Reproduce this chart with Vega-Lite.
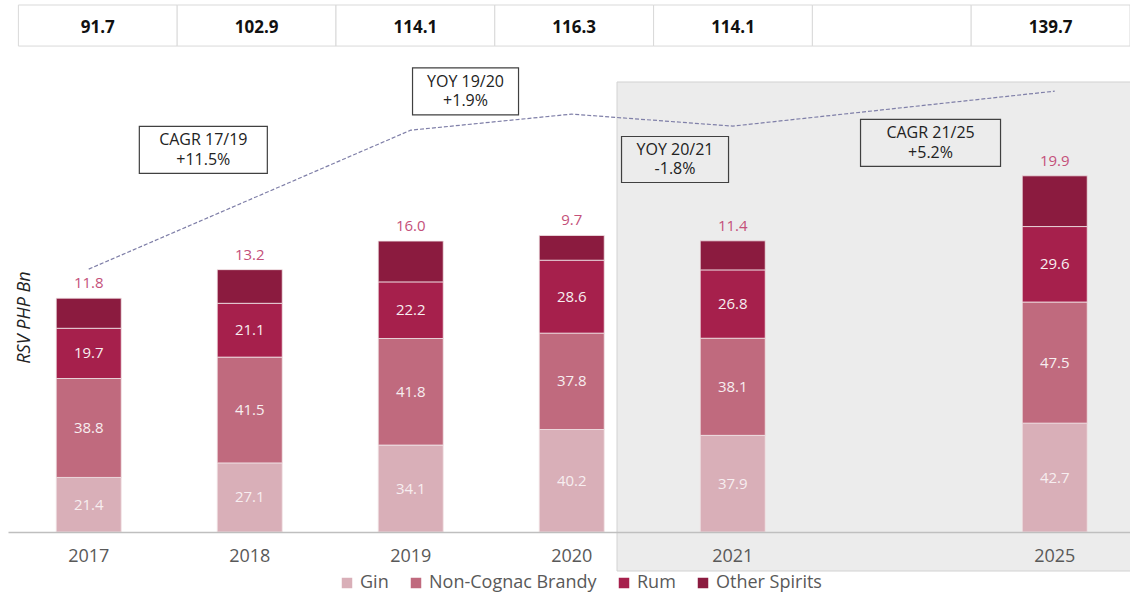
{
  "$schema": "https://vega.github.io/schema/vega-lite/v6.json",
  "width": 1122,
  "height": 527,
  "padding": {"left": 8, "top": 4, "right": 0, "bottom": 0},
  "autosize": {"type": "pad"},
  "background": "white",
  "config": {
    "view": {"stroke": null},
    "font": "Open Sans",
    "axisX": {"ticks": false, "grid": false},
    "axisY": {"labels": false, "ticks": false, "domain": false, "grid": false}
  },
  "datasets": {
    "spirits": [
      {"year": "2017", "type": "Gin", "rank": 1, "value": 21.4},
      {"year": "2017", "type": "Non-Cognac Brandy", "rank": 2, "value": 38.8},
      {"year": "2017", "type": "Rum", "rank": 3, "value": 19.7},
      {"year": "2017", "type": "Other Spirits", "rank": 4, "value": 11.8},
      {"year": "2018", "type": "Gin", "rank": 1, "value": 27.1},
      {"year": "2018", "type": "Non-Cognac Brandy", "rank": 2, "value": 41.5},
      {"year": "2018", "type": "Rum", "rank": 3, "value": 21.1},
      {"year": "2018", "type": "Other Spirits", "rank": 4, "value": 13.2},
      {"year": "2019", "type": "Gin", "rank": 1, "value": 34.1},
      {"year": "2019", "type": "Non-Cognac Brandy", "rank": 2, "value": 41.8},
      {"year": "2019", "type": "Rum", "rank": 3, "value": 22.2},
      {"year": "2019", "type": "Other Spirits", "rank": 4, "value": 16.0},
      {"year": "2020", "type": "Gin", "rank": 1, "value": 40.2},
      {"year": "2020", "type": "Non-Cognac Brandy", "rank": 2, "value": 37.8},
      {"year": "2020", "type": "Rum", "rank": 3, "value": 28.6},
      {"year": "2020", "type": "Other Spirits", "rank": 4, "value": 9.7},
      {"year": "2021", "type": "Gin", "rank": 1, "value": 37.9},
      {"year": "2021", "type": "Non-Cognac Brandy", "rank": 2, "value": 38.1},
      {"year": "2021", "type": "Rum", "rank": 3, "value": 26.8},
      {"year": "2021", "type": "Other Spirits", "rank": 4, "value": 11.4},
      {"year": "2025", "type": "Gin", "rank": 1, "value": 42.7},
      {"year": "2025", "type": "Non-Cognac Brandy", "rank": 2, "value": 47.5},
      {"year": "2025", "type": "Rum", "rank": 3, "value": 29.6},
      {"year": "2025", "type": "Other Spirits", "rank": 4, "value": 19.9}
    ],
    "totals": [
      {"year": "2017", "label": "91.7"},
      {"year": "2018", "label": "102.9"},
      {"year": "2019", "label": "114.1"},
      {"year": "2020", "label": "116.3"},
      {"year": "2021", "label": "114.1"},
      {"year": " ", "label": ""},
      {"year": "2025", "label": "139.7"}
    ],
    "trend": [
      {"year": "2017", "trend": 103.1},
      {"year": "2019", "trend": 157.6},
      {"year": "2020", "trend": 163.9},
      {"year": "2021", "trend": 159.2},
      {"year": "2025", "trend": 172.9}
    ]
  },
  "layer": [
    {
      "data": {"name": "totals"},
      "encoding": {
        "x": {"field": "year", "type": "nominal", "axis": null,
              "scale": {"domain": ["2017", "2018", "2019", "2020", "2021", " ", "2025"], "paddingInner": 0, "paddingOuter": 0.0327, "align": 1}}
      },
      "layer": [
        {
          "mark": {"type": "rect", "fill": "white", "stroke": "#d9d9d9", "strokeWidth": 1},
          "encoding": {
            "y": {"datum": 190.6, "type": "quantitative", "title": "RSV PHP Bn", "scale": {"domain": [0, 206.7], "nice": false, "zero": false}},
            "y2": {"datum": 206.7}
          }
        },
        {
          "mark": {"type": "text", "fontSize": 17, "fontWeight": "bold", "color": "#111111", "baseline": "middle"},
          "encoding": {
            "y": {"datum": 197.8, "type": "quantitative", "title": "RSV PHP Bn", "scale": {"domain": [0, 206.7], "nice": false, "zero": false}},
            "text": {"field": "label", "type": "nominal"}
          }
        }
      ]
    },
    {
      "data": {"name": "spirits"},
      "layer": [
        {
          "data": {"values": [{"region": "forecast"}]},
          "mark": {"type": "rect", "fill": "#ececec", "stroke": "#d2d2d2", "strokeWidth": 1, "xOffset": -115.7, "x2Offset": 76},
          "encoding": {
            "x": {"datum": "2021", "type": "nominal", "bandPosition": 0.5, "title": null,
                  "scale": {"domain": ["2017", "2018", "2019", "2020", "2021", " ", "2025"], "paddingInner": 0.5963, "paddingOuter": 0.2826, "align": 0.53}},
            "x2": {"datum": "2025", "bandPosition": 0.5},
            "y": {"datum": -15.3, "type": "quantitative", "title": "RSV PHP Bn", "scale": {"domain": [0, 206.7], "nice": false, "zero": false}},
            "y2": {"datum": 176.5}
          }
        },
        {
          "mark": {"type": "bar", "stroke": "#f1e4e7", "strokeWidth": 0.8},
          "encoding": {
            "x": {"field": "year", "type": "nominal", "title": null,
                  "scale": {"domain": ["2017", "2018", "2019", "2020", "2021", " ", "2025"], "paddingInner": 0.5963, "paddingOuter": 0.2826, "align": 0.53},
                  "axis": {"zindex": 2, "labelFontSize": 18, "labelColor": "#595959", "labelFont": "Open Sans", "labelPadding": 15, "labelAlign": "center", "labelBaseline": "top", "ticks": false, "labelAngle": 0, "domainColor": "#bfbfbf", "domainWidth": 1.5, "grid": false}},
            "y": {"field": "value", "type": "quantitative", "stack": "zero", "title": "RSV PHP Bn",
                  "scale": {"domain": [0, 206.7], "nice": false, "zero": false},
                  "axis": {"labels": false, "ticks": false, "domain": false, "grid": false, "titleFontStyle": "italic", "titleFontWeight": "normal", "titleFontSize": 18, "titleColor": "#222222", "titleFont": "Open Sans", "titleX": 25, "titleY": 312, "titleAngle": -90, "titleAlign": "center", "titleBaseline": "bottom"}},
            "order": {"field": "rank", "type": "quantitative"},
            "color": {"field": "type", "type": "nominal",
                      "scale": {"domain": ["Gin", "Non-Cognac Brandy", "Rum", "Other Spirits"], "range": ["#d9afb8", "#c06a7e", "#a6204c", "#8b1b3f"]},
                      "legend": {"title": null, "orient": "none", "legendX": 330, "legendY": 569, "padding": 0, "direction": "horizontal", "symbolType": "square", "symbolSize": 110, "symbolStrokeWidth": 0, "labelFontSize": 18, "labelColor": "#595959", "labelFont": "Open Sans", "labelLimit": 400, "columnPadding": 18, "labelOffset": 4}}
          }
        },
        {
          "mark": {"type": "text", "fontSize": 15, "baseline": "middle", "color": "#f7eef0"},
          "encoding": {
            "x": {"field": "year", "type": "nominal", "title": null,
                  "scale": {"domain": ["2017", "2018", "2019", "2020", "2021", " ", "2025"], "paddingInner": 0.5963, "paddingOuter": 0.2826, "align": 0.53}},
            "y": {"field": "value", "type": "quantitative", "stack": "zero", "bandPosition": 0.5, "title": "RSV PHP Bn",
                  "scale": {"domain": [0, 206.7], "nice": false, "zero": false}},
            "detail": {"field": "type", "type": "nominal"},
            "order": {"field": "rank", "type": "quantitative"},
            "text": {"condition": {"test": "datum.type !== 'Other Spirits'", "field": "value", "type": "quantitative", "format": ".1f"}, "value": ""}
          }
        },
        {
          "mark": {"type": "text", "fontSize": 15, "baseline": "middle", "dy": -15, "color": "#c4507a"},
          "encoding": {
            "x": {"field": "year", "type": "nominal", "title": null,
                  "scale": {"domain": ["2017", "2018", "2019", "2020", "2021", " ", "2025"], "paddingInner": 0.5963, "paddingOuter": 0.2826, "align": 0.53}},
            "y": {"field": "value", "type": "quantitative", "stack": "zero", "title": "RSV PHP Bn",
                  "scale": {"domain": [0, 206.7], "nice": false, "zero": false}},
            "detail": {"field": "type", "type": "nominal"},
            "order": {"field": "rank", "type": "quantitative"},
            "text": {"condition": {"test": "datum.type === 'Other Spirits'", "field": "value", "type": "quantitative", "format": ".1f"}, "value": ""}
          }
        },
        {
          "data": {"name": "trend"},
          "mark": {"type": "line", "color": "#7f7fa8", "strokeWidth": 1.2, "strokeDash": [4, 2]},
          "encoding": {
            "x": {"field": "year", "type": "nominal", "title": null,
                  "scale": {"domain": ["2017", "2018", "2019", "2020", "2021", " ", "2025"], "paddingInner": 0.5963, "paddingOuter": 0.2826, "align": 0.53}},
            "y": {"field": "trend", "type": "quantitative", "title": "RSV PHP Bn",
                  "scale": {"domain": [0, 206.7], "nice": false, "zero": false}}
          }
        },
        {
          "data": {"values": [{"note": "CAGR 17/19\n+11.5%"}]},
          "encoding": {
            "x": {"datum": "2018", "type": "nominal", "title": null,
                  "scale": {"domain": ["2017", "2018", "2019", "2020", "2021", " ", "2025"], "paddingInner": 0.5963, "paddingOuter": 0.2826, "align": 0.53}},
            "y": {"datum": 149.9, "type": "quantitative", "title": "RSV PHP Bn", "scale": {"domain": [0, 206.7], "nice": false, "zero": false}}
          },
          "layer": [
            {"mark": {"type": "point", "shape": "M-1,-0.367H1V0.367H-1Z", "size": 16384, "filled": false, "stroke": "#404040", "strokeWidth": 1.2, "opacity": 1, "xOffset": -46.4}},
            {"mark": {"type": "text", "lineBreak": "\n", "fontSize": 16, "color": "#222222", "lineHeight": 19.5, "baseline": "middle", "dy": -9.75, "xOffset": -46.4}, "encoding": {"text": {"field": "note", "type": "nominal"}}}
          ]
        },
        {
          "data": {"values": [{"note": "YOY 19/20\n+1.9%"}]},
          "encoding": {
            "x": {"datum": "2019", "type": "nominal", "title": null,
                  "scale": {"domain": ["2017", "2018", "2019", "2020", "2021", " ", "2025"], "paddingInner": 0.5963, "paddingOuter": 0.2826, "align": 0.53}},
            "y": {"datum": 172.8, "type": "quantitative", "title": "RSV PHP Bn", "scale": {"domain": [0, 206.7], "nice": false, "zero": false}}
          },
          "layer": [
            {"mark": {"type": "point", "shape": "M-1,-0.443H1V0.443H-1Z", "size": 11236, "filled": false, "stroke": "#404040", "strokeWidth": 1.2, "opacity": 1, "xOffset": 54.8}},
            {"mark": {"type": "text", "lineBreak": "\n", "fontSize": 16, "color": "#222222", "lineHeight": 19.5, "baseline": "middle", "dy": -9.75, "xOffset": 54.8}, "encoding": {"text": {"field": "note", "type": "nominal"}}}
          ]
        },
        {
          "data": {"values": [{"note": "YOY 20/21\n-1.8%"}]},
          "encoding": {
            "x": {"datum": "2021", "type": "nominal", "title": null,
                  "scale": {"domain": ["2017", "2018", "2019", "2020", "2021", " ", "2025"], "paddingInner": 0.5963, "paddingOuter": 0.2826, "align": 0.53}},
            "y": {"datum": 146.1, "type": "quantitative", "title": "RSV PHP Bn", "scale": {"domain": [0, 206.7], "nice": false, "zero": false}}
          },
          "layer": [
            {"mark": {"type": "point", "shape": "M-1,-0.43H1V0.43H-1Z", "size": 11449, "filled": false, "stroke": "#404040", "strokeWidth": 1.2, "opacity": 1, "xOffset": -57.7}},
            {"mark": {"type": "text", "lineBreak": "\n", "fontSize": 16, "color": "#222222", "lineHeight": 19.5, "baseline": "middle", "dy": -9.75, "xOffset": -57.7}, "encoding": {"text": {"field": "note", "type": "nominal"}}}
          ]
        },
        {
          "data": {"values": [{"note": "CAGR 21/25\n+5.2%"}]},
          "encoding": {
            "x": {"datum": " ", "type": "nominal", "title": null,
                  "scale": {"domain": ["2017", "2018", "2019", "2020", "2021", " ", "2025"], "paddingInner": 0.5963, "paddingOuter": 0.2826, "align": 0.53}},
            "y": {"datum": 152.6, "type": "quantitative", "title": "RSV PHP Bn", "scale": {"domain": [0, 206.7], "nice": false, "zero": false}}
          },
          "layer": [
            {"mark": {"type": "point", "shape": "M-1,-0.336H1V0.336H-1Z", "size": 19600, "filled": false, "stroke": "#404040", "strokeWidth": 1.2, "opacity": 1, "xOffset": 36.8}},
            {"mark": {"type": "text", "lineBreak": "\n", "fontSize": 16, "color": "#222222", "lineHeight": 19.5, "baseline": "middle", "dy": -9.75, "xOffset": 36.8}, "encoding": {"text": {"field": "note", "type": "nominal"}}}
          ]
        }
      ]
    }
  ],
  "resolve": {"scale": {"x": "independent"}}
}
